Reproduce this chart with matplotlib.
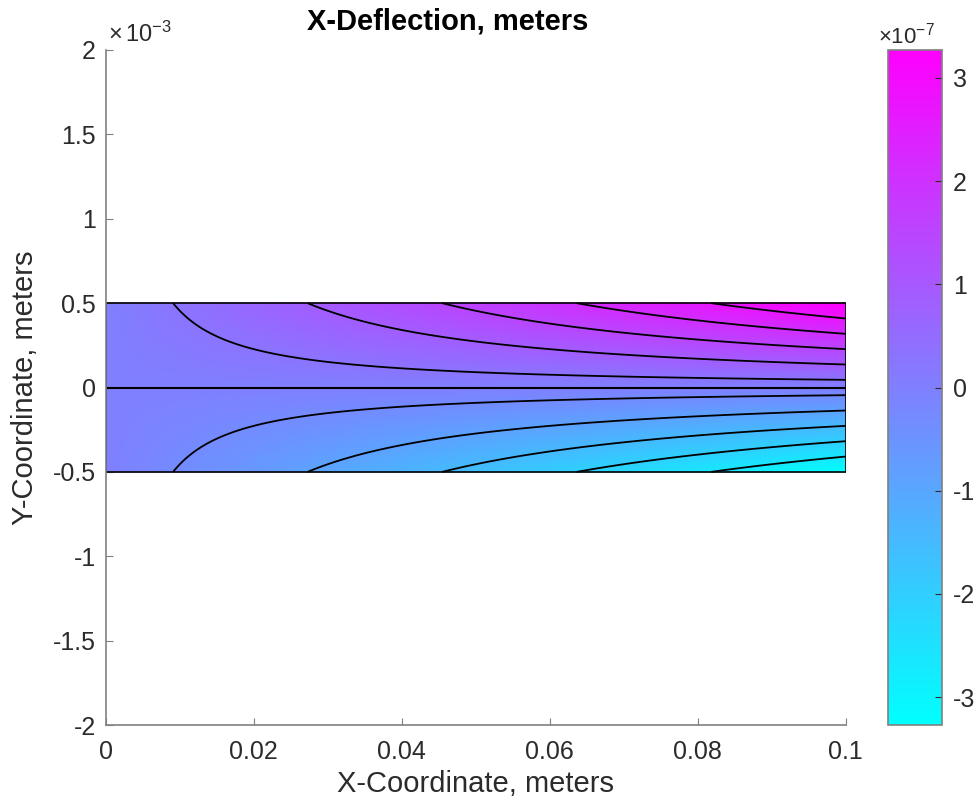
import numpy as np
import matplotlib.pyplot as plt
from matplotlib.ticker import FuncFormatter

plt.rcParams['font.family'] = ['Liberation Sans', 'DejaVu Sans']
plt.rcParams['mathtext.fontset'] = 'custom'
plt.rcParams['mathtext.rm'] = 'Liberation Sans'
plt.rcParams['mathtext.it'] = 'Liberation Sans'

# beam geometry (meters) and x-deflection read at its corners (meters)
corner_x = [0.0, 0.1]
corner_y = [-0.5e-3, 0.5e-3]
corner_values = [[0.0, 0.0],            # x = 0   : bottom, top
                 [-3.27e-7, 3.27e-7]]   # x = 0.1 : bottom, top
n_levels = 10
x_ticks = [0, 0.02, 0.04, 0.06, 0.08, 0.1]
y_ticks = [-2, -1.5, -1, -0.5, 0, 0.5, 1, 1.5, 2]   # x 1e-3
cbar_ticks = [-3, -2, -1, 0, 1, 2, 3]               # x 1e-7

TEXT = '#2b2b2b'
AXC = '#808080'


def main():
    xs = np.linspace(corner_x[0], corner_x[1], 301)
    ys = np.linspace(corner_y[0], corner_y[1], 61)
    X, Y = np.meshgrid(xs, ys)
    # bilinear blend of the corner values
    tx = (X - corner_x[0]) / (corner_x[1] - corner_x[0])
    ty = (Y - corner_y[0]) / (corner_y[1] - corner_y[0])
    c = np.array(corner_values)
    U = (c[0, 0] * (1 - tx) * (1 - ty) + c[0, 1] * (1 - tx) * ty
         + c[1, 0] * tx * (1 - ty) + c[1, 1] * tx * ty)
    vmin, vmax = U.min(), U.max()

    fig = plt.figure(figsize=(9.8, 8.09), dpi=100)
    ax = fig.add_axes([0.108, 0.1038, 0.755, 0.8344])
    cax = fig.add_axes([0.906, 0.1038, 0.055, 0.8344])

    mesh = ax.pcolormesh(X, Y, U, cmap='cool', vmin=vmin, vmax=vmax,
                         shading='gouraud')
    levels = np.linspace(vmin, vmax, n_levels + 2)[1:-1]
    ax.contour(X, Y, U, levels=levels, colors='black', linewidths=1.3,
               linestyles='solid')
    # beam outline and mid line
    ax.plot([corner_x[0], corner_x[1], corner_x[1], corner_x[0], corner_x[0]],
            [corner_y[0], corner_y[0], corner_y[1], corner_y[1], corner_y[0]],
            color='black', lw=1.2)
    ax.plot(corner_x, [0, 0], color='black', lw=1.5)

    ax.set_xlim(0, 0.1)
    ax.set_ylim(-2e-3, 2e-3)
    ax.set_xticks(x_ticks)
    ax.set_yticks([v * 1e-3 for v in y_ticks])
    ax.xaxis.set_major_formatter(FuncFormatter(lambda v, p: '%g' % round(v, 4)))
    ax.yaxis.set_major_formatter(FuncFormatter(lambda v, p: '%g' % round(v * 1e3, 3)))
    for s in ['top', 'right']:
        ax.spines[s].set_visible(False)
    for s in ['left', 'bottom']:
        ax.spines[s].set_color(AXC)
        ax.spines[s].set_linewidth(1.2)
    ax.tick_params(direction='in', length=5, color=AXC, labelsize=18,
                   labelcolor=TEXT)
    ax.tick_params(axis='x', pad=11)
    ax.tick_params(axis='y', pad=7)
    ax.set_xlabel('X-Coordinate, meters', fontsize=21, color=TEXT, labelpad=4)
    ax.set_ylabel('Y-Coordinate, meters', fontsize=21, color=TEXT, labelpad=10)
    fig.text(0.110, 0.957, r'$\times\,10^{-3}$', fontsize=17, color=TEXT,
             ha='left', va='center')
    fig.text(0.457, 0.974, 'X-Deflection, meters', fontsize=21, fontweight='bold',
             ha='center', va='center')

    cb = fig.colorbar(mesh, cax=cax)
    cb.set_ticks([v * 1e-7 for v in cbar_ticks])
    cb.set_ticklabels(['%g' % v for v in cbar_ticks])
    cb.outline.set_edgecolor(AXC)
    cb.outline.set_linewidth(1.2)
    cax.tick_params(direction='in', length=5, color=TEXT, labelsize=18,
                    labelcolor=TEXT, pad=8)
    fig.text(0.896, 0.956, r'$\times10^{-7}$', fontsize=16, color=TEXT,
             ha='left', va='center')

    fig.savefig('out.png', dpi=100)


if __name__ == "__main__":
    main()
